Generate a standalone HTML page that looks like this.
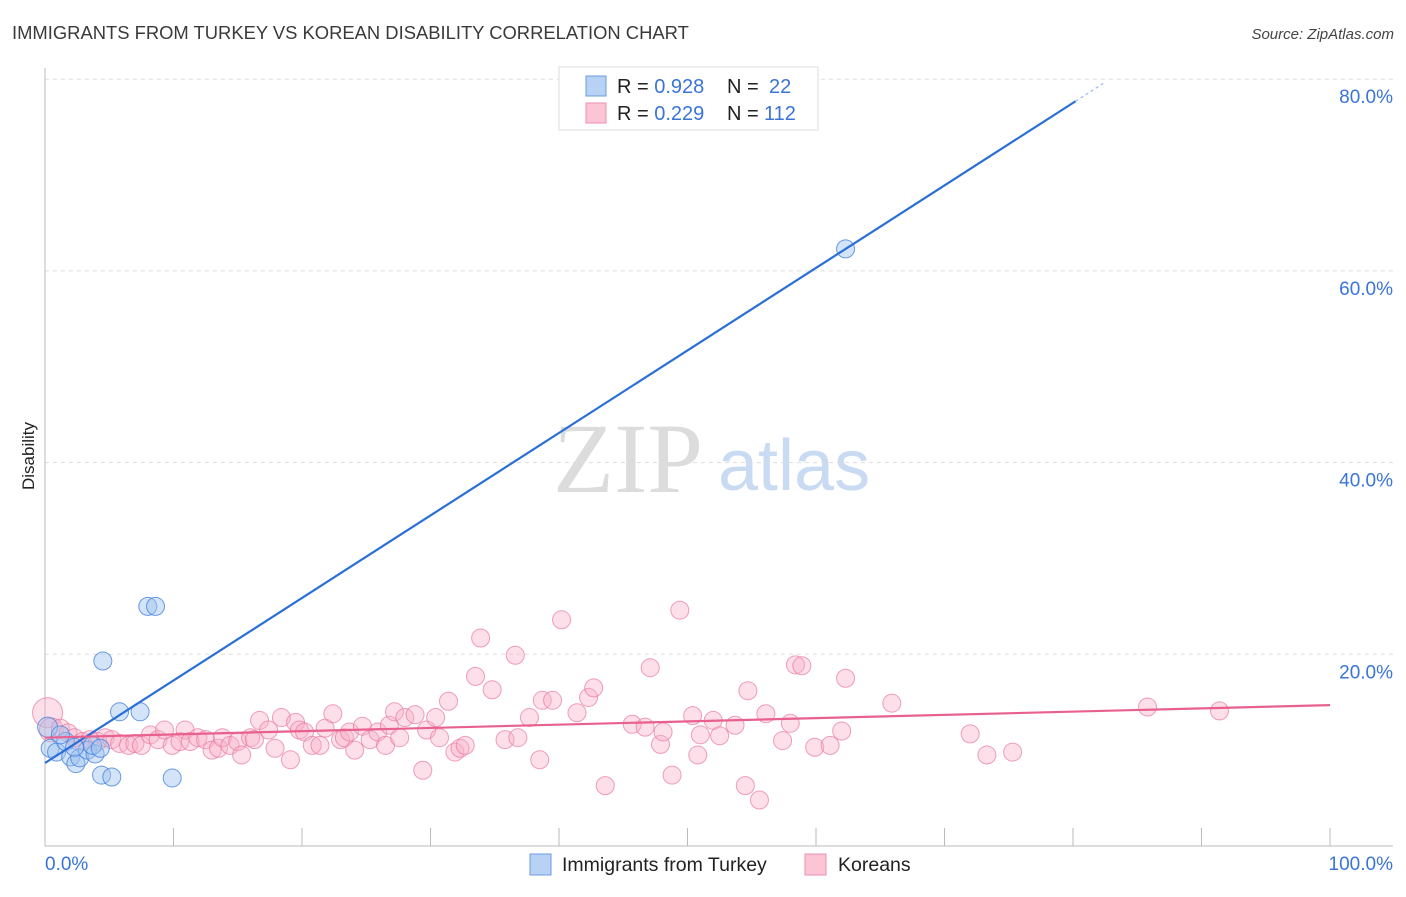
<!DOCTYPE html>
<html><head><meta charset="utf-8"><style>
body{margin:0;background:#fff;font-family:"Liberation Sans",sans-serif;}
</style></head><body>
<svg id="chart" width="1406" height="892" xmlns="http://www.w3.org/2000/svg" font-family="Liberation Sans, sans-serif">
<text x="12" y="39" font-size="18.4" fill="#3a3a3a">IMMIGRANTS FROM TURKEY VS KOREAN DISABILITY CORRELATION CHART</text>
<text x="1394" y="39" font-size="15" fill="#444" font-style="italic" text-anchor="end">Source: ZipAtlas.com</text>
<text x="0" y="0" font-size="17" fill="#222" text-anchor="middle" transform="translate(34,456) rotate(-90)">Disability</text>
<g>
<text x="553" y="492" font-size="100" fill="#dcdcdc" style="font-family:'Liberation Serif',serif">ZIP</text>
<text x="718" y="490" font-size="72" fill="#c9daf3">atlas</text>
</g>
<g id="grid"></g>
<g id="pink"></g>
<g id="blue"></g>
<g id="lines"></g>
<g>
<rect x="559" y="67" width="259" height="63" fill="#fff" stroke="#ddd"/>
<rect x="586" y="76" width="20" height="20" fill="#b8d2f5" stroke="#6e9be0"/>
<rect x="586" y="103" width="20" height="20" fill="#fbc5d6" stroke="#ec8fb0"/>
<text x="617" y="93" font-size="20" fill="#222">R = <tspan fill="#3a74d8">0.928</tspan><tspan x="727">N = </tspan><tspan x="769" fill="#3a74d8">22</tspan></text>
<text x="617" y="120" font-size="20" fill="#222">R = <tspan fill="#3a74d8">0.229</tspan><tspan x="727">N = </tspan><tspan x="764" fill="#3a74d8">112</tspan></text>
</g>
<g>
<rect x="530" y="854" width="21" height="21" fill="#b8d2f5" stroke="#6e9be0"/>
<text x="562" y="871" font-size="19.5" fill="#222">Immigrants from Turkey</text>
<rect x="805" y="854" width="21" height="21" fill="#fbc5d6" stroke="#ec8fb0"/>
<text x="838" y="871" font-size="19.5" fill="#222">Koreans</text>
</g>
</svg>
<script>
const yTicks=[20,40,60,80];
const yTickLabels=["20.0%","40.0%","60.0%","80.0%"];
const xTicks=[10,20,30,40,50,60,70,80,90,100];
const blueX=[0.2,0.4,0.9,1.6,2.0,2.4,2.7,3.3,3.9,3.7,4.4,5.2,4.5,5.8,7.4,8.0,8.6,9.9,62.3,1.2,2.3,4.3];
const blueY=[12.4,10.2,9.8,10.9,9.3,8.6,9.2,10.0,9.6,10.5,7.4,7.2,19.3,14.0,14.0,25.0,25.0,7.1,62.3,11.6,10.3,10.2];
const pinkX=[0.2,0.5,1.2,1.8,2.3,2.9,3.5,4.1,4.7,5.2,5.8,6.5,7.0,7.5,8.2,8.8,9.3,9.9,10.5,10.9,11.3,11.9,12.5,13.0,13.5,13.8,14.4,15.0,15.3,16.0,16.3,16.7,17.4,17.9,18.4,19.1,19.5,19.8,20.2,20.8,21.4,21.8,22.4,23.0,23.3,23.7,24.1,24.7,25.3,25.9,26.5,26.8,27.2,27.6,28.0,28.8,29.4,29.7,30.4,30.7,31.4,31.9,32.3,32.7,33.5,33.9,34.8,35.8,36.6,36.8,37.7,38.5,38.7,39.5,40.2,41.4,42.3,42.7,43.6,45.7,46.7,47.1,47.9,48.1,48.8,49.4,50.4,50.8,51.0,52.0,52.5,53.7,54.5,54.7,55.6,56.1,57.4,58.0,58.4,58.9,59.9,61.1,62.0,62.3,65.9,72.0,73.3,75.3,85.8,91.4];
const pinkY=[13.9,12.1,12.3,11.8,11.3,10.9,11.1,10.9,11.3,11.1,10.7,10.5,10.7,10.5,11.6,11.1,12.1,10.5,10.9,12.1,10.9,11.3,11.1,10.0,10.2,11.3,10.5,10.9,9.5,11.3,11.1,13.1,12.1,10.2,13.4,9.0,12.9,12.1,11.9,10.5,10.5,12.3,13.8,11.1,11.3,11.9,10.0,12.5,11.1,11.9,10.5,12.6,14.0,11.3,13.4,13.7,7.9,12.1,13.4,11.3,15.1,9.8,10.2,10.5,17.7,21.7,16.3,11.1,19.9,11.3,13.4,9.0,15.2,15.2,23.6,13.9,15.5,16.5,6.3,12.7,12.4,18.6,10.6,11.9,7.4,24.6,13.6,9.5,11.6,13.1,11.5,12.6,6.3,16.2,4.8,13.8,11.0,12.8,18.9,18.8,10.3,10.5,12.0,17.5,14.9,11.7,9.5,9.8,14.5,14.1];
const blueLine=[0,8.66,80.2,77.7,82.5];
const pinkLine=[0,11.3,100,14.7];
const NS="http://www.w3.org/2000/svg";
const sx=v=>45+v*12.85, sy=v=>846-v*9.585;
function mk(tag,attrs,parent){const e=document.createElementNS(NS,tag);for(const k in attrs)e.setAttribute(k,attrs[k]);parent.appendChild(e);return e;}
const grid=document.getElementById('grid');
yTicks.forEach((t,i)=>{
 const l=mk('line',{x1:45,x2:1393,y1:sy(t),y2:sy(t),stroke:'#ddd','stroke-dasharray':'4,4'},grid);
 
 
 const tx=mk('text',{x:1393,y:sy(t)+24,'font-size':19,fill:'#3a74d8','text-anchor':'end'},grid);
 tx.textContent=yTickLabels[i];
 
 
});
const ax=mk('line',{x1:45,x2:1393,y1:846,y2:846,stroke:'#bbb'},grid);


const ay=mk('line',{x1:45,x2:45,y1:68,y2:846,stroke:'#bbb'},grid);


xTicks.forEach(t=>{
 const l=mk('line',{x1:sx(t),x2:sx(t),y1:828,y2:846,stroke:'#bbb'},grid);
 
 
});
const x0=mk('text',{x:45,y:870,'font-size':19,fill:'#3a74d8'},grid);x0.textContent='0.0%';


const x1=mk('text',{x:1393,y:870,'font-size':19,fill:'#3a74d8','text-anchor':'end'},grid);x1.textContent='100.0%';


const pg=document.getElementById('pink');
pinkX.forEach((v,i)=>{
 const r=i===0?15:(i===1?12:9);
 const c=mk('circle',{cx:sx(v),cy:sy(pinkY[i]),r:r,fill:'rgba(248,176,200,0.4)',stroke:'rgba(232,120,160,0.7)','stroke-width':1},pg);
 
 
});
const bg=document.getElementById('blue');
blueX.forEach((v,i)=>{
 const r=i===0?10:9;
 const c=mk('circle',{cx:sx(v),cy:sy(blueY[i]),r:r,fill:'rgba(160,196,240,0.45)',stroke:'rgba(70,130,220,0.8)','stroke-width':1},bg);
 
 
});
const lg=document.getElementById('lines');
const slope=(blueLine[3]-blueLine[1])/(blueLine[2]-blueLine[0]);
const bl=mk('line',{x1:sx(blueLine[0]),y1:sy(blueLine[1]),x2:sx(blueLine[2]),y2:sy(blueLine[3]),stroke:'#2a6fd6','stroke-width':2.2},lg);


const bd=mk('line',{x1:sx(blueLine[2]),y1:sy(blueLine[3]),x2:sx(blueLine[4]),y2:sy(blueLine[1]+slope*blueLine[4]),stroke:'#9bb9e8','stroke-width':1.2,'stroke-dasharray':'3,3'},lg);


const pl=mk('line',{x1:sx(pinkLine[0]),y1:sy(pinkLine[1]),x2:sx(pinkLine[2]),y2:sy(pinkLine[3]),stroke:'#e8608e','stroke-width':2.2},lg);


</script>
</body></html>
